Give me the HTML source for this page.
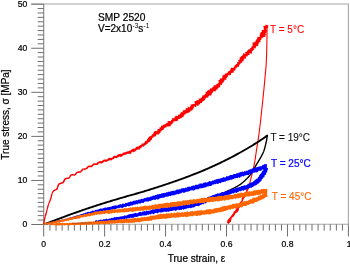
<!DOCTYPE html>
<html><head><meta charset="utf-8"><style>
html,body{margin:0;padding:0;background:#fff;}
body{width:350px;height:264px;overflow:hidden;}
svg{display:block;will-change:transform;}
text{font-family:"Liberation Sans",sans-serif;}
.b{stroke:#000;stroke-width:0.22;}
.sp{text-rendering:geometricPrecision;}
</style></head><body>
<svg width="350" height="264" viewBox="0 0 350 264">
<rect width="350" height="264" fill="#fff"/>
<g stroke="#a6a6a6" stroke-width="1.1" fill="none">
<path d="M31.2,4H348.40V224.00"/>
<path d="M43.70,224.3H348.40"/>
<path d="M43.7,4V224.3" stroke="#808080" stroke-width="1.1"/>
</g>
<path d="M37.7,220.04H43.70M37.7,215.64H43.70M37.7,211.23H43.70M37.7,206.83H43.70M37.7,202.42H43.70M37.7,198.01H43.70M37.7,193.61H43.70M37.7,189.20H43.70M37.7,184.80H43.70M37.7,175.98H43.70M37.7,171.58H43.70M37.7,167.17H43.70M37.7,162.77H43.70M37.7,158.36H43.70M37.7,153.95H43.70M37.7,149.55H43.70M37.7,145.14H43.70M37.7,140.74H43.70M37.7,131.92H43.70M37.7,127.52H43.70M37.7,123.11H43.70M37.7,118.71H43.70M37.7,114.30H43.70M37.7,109.89H43.70M37.7,105.49H43.70M37.7,101.08H43.70M37.7,96.68H43.70M37.7,87.86H43.70M37.7,83.46H43.70M37.7,79.05H43.70M37.7,74.65H43.70M37.7,70.24H43.70M37.7,65.83H43.70M37.7,61.43H43.70M37.7,57.02H43.70M37.7,52.62H43.70M37.7,43.80H43.70M37.7,39.40H43.70M37.7,34.99H43.70M37.7,30.59H43.70M37.7,26.18H43.70M37.7,21.77H43.70M37.7,17.37H43.70M37.7,12.96H43.70M37.7,8.56H43.70M49.94,224.30V230.6M56.04,224.30V230.6M62.13,224.30V230.6M68.23,224.30V230.6M74.32,224.30V230.6M80.41,224.30V230.6M86.51,224.30V230.6M92.60,224.30V230.6M98.70,224.30V230.6M110.88,224.30V230.6M116.98,224.30V230.6M123.07,224.30V230.6M129.17,224.30V230.6M135.26,224.30V230.6M141.35,224.30V230.6M147.45,224.30V230.6M153.54,224.30V230.6M159.64,224.30V230.6M171.82,224.30V230.6M177.92,224.30V230.6M184.01,224.30V230.6M190.11,224.30V230.6M196.20,224.30V230.6M202.29,224.30V230.6M208.39,224.30V230.6M214.48,224.30V230.6M220.58,224.30V230.6M232.76,224.30V230.6M238.86,224.30V230.6M244.95,224.30V230.6M251.05,224.30V230.6M257.14,224.30V230.6M263.23,224.30V230.6M269.33,224.30V230.6M275.42,224.30V230.6M281.52,224.30V230.6M293.70,224.30V230.6M299.80,224.30V230.6M305.89,224.30V230.6M311.99,224.30V230.6M318.08,224.30V230.6M324.17,224.30V230.6M330.27,224.30V230.6M336.36,224.30V230.6M342.46,224.30V230.6" stroke="#6e6e6e" stroke-width="1" fill="none"/>
<path d="M31.3,224.50H43.70M31.3,180.44H43.70M31.3,136.38H43.70M31.3,92.32H43.70M31.3,48.26H43.70M31.3,4.20H43.70M43.70,224.30V236.5M104.64,224.30V236.5M165.58,224.30V236.5M226.52,224.30V236.5M287.46,224.30V236.5M348.40,224.30V236.5" stroke="#6e6e6e" stroke-width="1" fill="none"/>
<g class="b" font-size="8.6" fill="#000" text-anchor="end"><text x="27.2" y="227.40">0</text><text x="27.2" y="183.34">10</text><text x="27.2" y="139.28">20</text><text x="27.2" y="95.22">30</text><text x="27.2" y="51.16">40</text><text x="27.2" y="7.10">50</text></g>
<g class="b" font-size="8.6" fill="#000" text-anchor="middle"><text x="43.70" y="247">0</text><text x="104.64" y="247">0.2</text><text x="165.58" y="247">0.4</text><text x="226.52" y="247">0.6</text><text x="287.46" y="247">0.8</text><text x="349.20" y="247">1</text></g>
<text class="b" x="196.5" y="261.6" font-size="10" fill="#000" text-anchor="middle">True strain, ε</text>
<text class="b" transform="translate(8.9,114.5) rotate(-90)" font-size="10" fill="#000" text-anchor="middle">True stress, σ [MPa]</text>
<text class="b" x="98" y="20.8" font-size="10.2" fill="#000">SMP 2520</text>
<text class="b" x="98" y="32" font-size="10" fill="#000">V=2x10</text><text x="132.6" y="28.3" font-size="6.4" fill="#000">-3</text><text class="b" x="138.2" y="32" font-size="10" fill="#000">s</text><text x="143.6" y="28.3" font-size="6.4" fill="#000">-1</text>

<g fill="#ff0000"><path d="M44.34,224.10 44.38,223.60 44.56,223.12 44.64,222.62 44.64,222.12 44.74,221.64 44.81,221.15 44.92,220.66 44.98,220.18 45.07,219.69 45.18,219.22 45.27,218.73 45.41,218.26 45.62,217.81 45.64,217.30 45.62,216.78 45.83,216.32 46.01,215.85 46.20,215.39 46.34,214.91 46.57,214.46 46.61,213.95 46.71,213.46 46.94,213.00 47.02,212.50 47.18,212.02 47.28,211.53 47.31,211.01 47.48,210.54 47.58,210.05 47.75,209.57 47.86,209.08 48.00,208.60 48.14,208.12 48.27,207.64 48.38,207.16 48.53,206.68 48.67,206.21 48.74,205.72 48.84,205.23 48.91,204.74 49.11,204.29 49.30,203.84 49.53,203.40 49.63,202.90 49.83,202.45 50.14,202.04 50.37,201.59 50.54,201.12 50.71,200.65 50.91,200.19 51.07,199.71 51.16,199.20 51.35,198.73 51.61,198.27 51.71,197.77 51.90,197.29 51.91,196.76 52.07,196.27 52.22,195.77 52.37,195.28 52.48,194.78 52.46,194.26 52.58,193.78 52.76,193.33 52.91,192.88 53.15,192.47 53.48,192.15 53.76,191.81 53.95,191.41 54.31,191.18 54.72,190.97 55.22,190.76 55.83,190.60 56.40,190.28 56.94,189.94 57.44,189.55 57.79,189.04 58.05,188.50 58.21,187.93 58.32,187.36 58.53,186.84 58.70,186.33 58.87,185.85 59.01,185.41 59.21,185.05 59.45,184.77 59.78,184.59 60.12,184.39 60.53,184.16 61.01,183.97 61.59,183.92 62.17,183.79 62.75,183.55 63.32,183.26 63.82,182.82 64.25,182.33 64.56,181.78 64.82,181.23 65.05,180.72 65.23,180.27 65.42,179.91 65.57,179.56 65.89,179.44 66.26,179.32 66.70,179.16 67.23,179.08 67.82,179.02 68.43,178.93 69.02,178.66 69.59,178.34 70.05,177.88 70.41,177.37 70.65,176.82 70.98,176.38 71.21,175.97 71.54,175.79 71.78,175.60 72.13,175.62 72.56,175.55 73.12,175.53 73.72,175.70 74.39,175.70 75.11,175.60 75.65,175.11 76.16,174.67 76.51,174.13 76.87,173.69 77.17,173.34 77.42,173.09 77.74,173.07 78.06,172.92 78.52,172.89 79.08,172.84 79.71,172.87 80.34,172.66 80.96,172.43 81.51,172.04 81.93,171.55 82.36,171.11 82.67,170.67 82.92,170.30 83.11,169.99 83.38,169.80 83.78,169.81 84.25,169.89 84.81,169.87 85.43,169.68 86.07,169.61 86.70,169.37 87.29,169.01 87.73,168.54 88.13,168.11 88.40,167.71 88.57,167.35 88.83,167.17 89.17,167.19 89.60,167.23 90.14,167.30 90.77,167.32 91.44,167.15 92.14,166.99 92.67,166.52 93.13,166.07 93.42,165.56 93.70,165.18 94.07,165.07 94.31,164.88 94.66,164.80 95.13,164.97 95.70,165.03 96.35,164.98 97.11,165.06 97.80,164.74 98.22,164.14 98.60,163.68 98.94,163.32 99.38,163.36 99.55,163.22 99.82,163.21 100.22,163.28 100.77,163.48 101.47,163.47 102.21,163.20 102.88,162.86 103.45,162.46 103.81,161.98 104.21,161.77 104.40,161.48 104.68,161.53 105.00,161.72 105.48,161.67 106.10,161.83 106.85,161.86 107.50,161.33 108.02,160.86 108.73,160.75 109.09,160.39 109.49,160.40 109.64,160.28 109.88,160.14 110.29,160.41 110.88,160.21 111.59,160.16 112.26,159.74 112.75,159.18 113.55,159.13 113.94,158.74 114.35,158.66 114.36,158.18 114.61,158.00 115.00,157.88 115.52,157.97 116.16,158.15 116.87,157.99 117.48,157.56 118.17,157.36 118.71,157.16 118.86,156.74 118.98,156.40 119.25,156.34 119.62,156.46 120.13,156.90 120.82,156.78 121.61,156.64 122.35,156.34 122.72,155.67 123.24,155.54 123.42,155.15 123.70,155.09 124.02,155.25 124.44,155.03 125.01,154.76 125.68,154.85 126.27,154.46 126.78,154.07 127.34,153.87 127.93,153.89 128.09,153.43 128.55,153.80 128.91,153.96 129.34,153.77 129.96,153.78 130.77,153.89 131.33,153.21 131.52,152.27 132.15,152.18 132.24,151.51 132.87,151.75 133.37,152.11 133.72,152.18 134.14,152.01 134.64,151.57 135.34,151.50 135.69,150.66 136.19,150.29 136.74,150.08 137.22,149.91 137.27,149.27 137.93,149.70 138.27,149.64 138.61,149.31 139.27,149.56 139.90,149.42 140.20,148.49 140.70,148.09 141.13,147.69 141.59,147.42 141.95,147.13 142.25,146.82 142.35,146.18 143.09,146.59 143.74,146.80 144.09,146.29 144.45,145.71 144.92,145.30 145.41,144.93 146.11,144.79 146.31,144.20 146.80,143.96 147.54,144.05 147.49,143.42 147.64,142.97 147.89,142.58 148.22,142.22 149.14,142.55 149.27,141.80 149.99,141.71 150.61,141.45 150.67,140.68 150.74,140.01 151.49,139.94 151.96,139.72 151.84,139.09 152.12,138.80 152.17,138.29 152.21,137.65 152.79,137.64 153.35,137.58 153.45,136.81 154.22,136.87 154.63,136.45 155.59,136.57 155.86,136.04 156.15,135.64 155.94,134.84 156.36,134.67 156.67,134.44 157.09,134.34 157.63,134.38 158.44,134.73 158.85,134.29 158.97,133.38 159.91,133.51 160.17,132.84 160.70,132.56 160.68,131.86 160.52,131.37 161.10,131.51 161.34,130.69 162.05,130.81 162.20,130.19 162.74,130.08 163.11,129.75 163.67,129.68 163.75,128.95 164.07,128.54 164.45,128.23 164.74,127.79 165.24,127.63 165.80,127.55 166.29,127.38 166.70,127.09 166.78,126.35 167.63,126.69 167.86,126.16 168.77,126.58 169.32,126.50 169.83,126.35 170.35,126.22 170.70,125.86 170.77,125.08 171.15,124.76 171.55,124.46 171.89,124.07 172.31,123.80 172.50,123.19 172.99,123.03 173.40,122.73 173.50,122.01 173.58,121.26 174.56,121.77 174.64,121.01 175.36,121.17 176.04,121.29 176.41,120.94 177.08,121.03 177.59,120.90 177.78,120.30 178.09,119.87 178.25,119.22 178.72,119.02 179.14,118.75 180.07,119.22 180.00,118.23 180.85,118.58 181.05,117.98 181.63,117.94 181.86,117.39 182.44,117.33 182.73,116.87 183.18,116.63 183.80,116.64 183.65,115.55 184.45,115.81 184.11,114.47 184.67,114.39 185.28,114.39 185.63,114.01 185.97,113.62 186.27,113.19 187.14,113.53 187.50,113.16 187.76,112.67 188.35,112.63 188.90,112.53 189.44,112.42 189.79,112.04 190.28,111.85 190.37,111.13 190.52,110.48 191.35,110.76 191.87,110.62 192.23,110.26 192.69,110.04 192.61,109.11 193.45,109.39 193.27,108.32 193.79,108.18 193.76,107.30 193.82,106.55 194.41,106.50 195.50,107.11 196.13,107.11 196.40,106.63 196.12,105.42 196.63,105.26 197.83,105.99 198.29,105.76 198.63,105.37 198.66,104.58 199.13,104.35 200.07,104.71 200.10,103.92 200.20,103.24 200.64,102.96 201.39,103.05 202.00,102.97 202.04,102.21 202.45,101.91 202.55,101.25 202.94,100.92 203.64,100.93 204.06,100.64 204.40,100.27 204.76,99.91 205.04,99.47 205.31,99.02 205.77,98.78 205.65,97.92 206.47,98.08 206.39,97.26 207.81,98.09 207.76,97.29 208.41,97.29 208.32,96.46 208.79,96.25 209.12,95.89 209.18,95.24 209.93,95.39 210.83,95.74 210.82,95.00 211.55,95.16 211.58,94.43 211.79,93.91 211.86,93.19 212.28,92.91 212.59,92.49 213.17,92.42 213.02,91.38 213.68,91.41 213.92,90.87 215.38,91.88 215.27,90.89 215.90,90.83 216.16,90.31 216.45,89.83 216.93,89.57 217.43,89.30 217.78,88.91 217.90,88.26 218.40,88.02 218.61,87.49 219.21,87.32 220.07,87.41 219.94,86.58 220.55,86.42 220.18,85.43 220.26,84.82 220.85,84.65 222.19,85.13 221.80,84.13 222.12,83.74 222.44,83.36 222.45,82.71 223.39,82.85 223.44,82.23 223.55,81.68 224.12,81.51 224.21,80.94 224.48,80.51 224.77,80.12 225.42,80.04 225.55,79.49 226.59,79.78 226.16,78.74 226.37,78.26 226.90,78.10 227.24,77.78 226.81,76.68 227.60,76.77 227.94,76.44 228.28,76.08 228.17,75.27 228.65,75.08 229.68,75.46 229.56,74.61 230.75,75.20 230.99,74.74 231.19,74.21 230.93,73.19 231.44,73.02 232.14,73.06 232.46,72.67 232.89,72.41 233.80,72.70 233.82,71.96 233.58,70.91 233.78,70.38 234.66,70.63 235.37,70.67 235.12,69.63 235.67,69.48 235.54,68.56 235.96,68.28 236.61,68.24 236.71,67.59 237.07,67.24 237.41,66.85 238.42,67.11 238.69,66.65 239.12,66.30 238.86,65.37 239.55,65.25 239.54,64.56 240.11,64.33 240.50,63.95 240.44,63.27 241.07,63.06 241.46,62.68 242.15,62.48 242.54,62.12 242.50,61.52 242.52,60.96 243.73,61.15 243.67,60.58 243.44,59.89 243.80,59.61 244.71,59.78 244.15,58.78 244.51,58.51 244.81,58.17 246.21,58.96 245.96,58.07 245.81,57.22 245.90,56.60 246.30,56.32 247.19,56.63 247.48,56.21 247.70,55.68 247.90,55.13 248.37,54.91 249.06,54.91 249.68,54.82 249.68,54.03 249.54,53.10 250.59,53.42 251.66,53.70 251.86,53.12 252.05,52.55 251.93,51.74 252.07,51.17 252.62,50.96 252.73,50.38 252.96,49.91 254.13,50.18 254.29,49.66 253.54,48.43 254.28,48.36 255.32,48.50 255.75,48.19 255.55,47.41 256.17,47.24 255.88,46.40 256.59,46.30 257.12,46.06 257.70,45.87 258.12,45.56 258.61,45.30 258.19,44.38 258.67,44.11 258.47,43.36 259.26,43.33 258.95,42.48 259.55,42.31 260.38,42.32 260.50,41.78 260.44,41.11 260.43,40.47 260.64,39.99 261.38,39.92 261.16,39.13 261.20,38.52 261.72,38.27 262.47,38.19 262.65,37.68 262.89,37.22 263.81,37.22 264.27,36.89 265.01,36.73 265.48,36.38 264.86,35.36 266.17,35.48 266.14,34.80 265.27,33.71 265.79,33.36 266.34,33.02 266.39,32.45 265.90,31.65 266.81,31.46 267.38,31.12 267.56,30.63 266.10,29.51 266.06,28.95 266.19,28.46 267.44,28.38 267.38,27.82 268.20,27.57 268.11,27.01 267.94,26.43 268.56,26.14 268.73,25.69 265.40,24.43 265.92,25.17 265.38,25.51 264.80,25.84 264.08,26.11 263.35,26.38 263.01,26.78 263.74,27.56 264.11,28.22 263.68,28.58 263.90,29.19 263.94,29.73 262.90,29.83 262.20,30.05 261.43,30.21 262.23,31.08 261.55,31.27 261.85,31.93 260.90,31.93 260.69,32.32 260.65,32.82 260.07,33.00 260.37,33.74 260.08,34.11 259.71,34.43 259.94,35.17 259.56,35.50 259.83,36.29 259.75,36.84 258.89,36.82 258.47,37.12 257.20,36.78 257.50,37.62 257.38,38.15 256.91,38.42 257.04,39.15 256.44,39.32 256.25,39.81 255.64,39.98 255.85,40.77 255.77,41.34 255.26,41.59 254.48,41.65 254.52,42.30 254.19,42.68 252.88,42.34 252.35,42.57 252.57,43.35 252.69,44.05 252.55,44.56 252.39,45.06 253.09,46.20 252.00,46.00 251.67,46.37 251.58,46.92 251.11,47.17 251.22,47.88 250.59,48.01 249.97,48.13 250.23,48.97 249.72,49.19 249.09,49.27 248.64,49.51 248.09,49.61 247.96,50.12 247.83,50.63 247.07,50.49 246.84,50.91 246.78,51.54 246.45,51.88 245.86,51.92 245.27,51.97 245.15,52.59 245.63,53.96 244.50,53.40 243.84,53.41 242.91,53.15 243.18,54.27 242.86,54.73 242.53,55.18 242.12,55.55 241.86,56.08 240.86,55.96 241.05,56.88 240.36,57.07 239.91,57.47 239.43,57.84 239.74,58.69 239.93,59.42 239.20,59.58 238.86,59.96 237.80,59.90 238.42,60.81 238.63,61.50 238.54,62.00 237.59,61.90 237.43,62.34 237.04,62.61 237.16,63.28 237.21,63.93 236.41,63.84 235.92,63.99 235.77,64.51 235.66,65.06 235.04,65.10 234.75,65.51 234.47,65.91 234.42,66.58 234.00,66.85 233.71,67.26 233.58,67.87 233.03,67.99 231.89,67.43 231.40,67.63 230.99,67.91 230.64,68.28 230.69,69.09 230.41,69.53 230.26,70.13 229.61,70.16 229.72,71.05 229.02,71.01 228.65,71.36 228.14,71.54 227.67,71.78 227.78,72.66 227.28,72.87 226.99,73.30 226.26,73.28 225.86,73.61 225.04,73.50 224.75,73.97 224.84,74.79 224.22,74.89 223.14,74.61 223.32,75.50 222.55,75.47 222.12,75.79 222.64,76.94 222.16,77.19 222.25,77.94 221.77,78.20 221.34,78.49 220.64,78.56 219.70,78.43 219.91,79.27 220.04,80.03 218.98,79.79 218.79,80.29 218.24,80.47 218.64,81.46 218.97,82.38 218.55,82.68 218.21,83.04 217.48,83.06 217.83,84.03 216.95,83.89 216.51,84.15 216.27,84.60 215.81,84.81 215.45,85.14 215.10,85.46 214.30,85.29 213.69,85.35 213.61,85.92 213.53,86.53 213.15,86.82 212.63,86.92 212.28,87.24 212.34,88.06 211.50,87.78 211.68,88.79 210.86,88.52 210.14,88.37 209.91,88.89 209.42,89.07 209.73,90.32 208.97,90.16 208.13,89.90 207.75,90.27 207.49,90.79 207.15,91.21 206.85,91.67 206.34,91.88 205.50,91.71 205.77,92.80 205.56,93.34 205.39,93.91 205.03,94.27 204.72,94.68 204.17,94.83 203.86,95.23 203.36,95.43 202.80,95.56 202.12,95.56 202.15,96.33 202.15,97.07 201.58,97.18 201.63,97.97 200.55,97.53 200.77,98.50 200.31,98.73 199.67,98.75 198.67,98.35 198.69,99.11 198.91,100.12 198.31,100.17 197.73,100.23 196.66,99.70 196.66,100.47 196.23,100.71 196.12,101.36 195.28,101.08 194.80,101.26 194.45,101.61 194.56,102.56 194.95,103.89 194.46,104.07 193.81,104.03 192.90,103.64 192.88,104.44 191.99,104.08 191.77,104.63 191.09,104.56 190.42,104.49 190.73,105.74 190.54,106.32 190.01,106.45 190.04,107.33 189.62,107.60 188.40,106.80 187.76,106.78 187.82,107.69 187.52,108.12 187.22,108.55 186.26,108.08 185.61,108.04 185.91,109.29 185.52,109.60 185.31,110.16 184.35,109.68 184.38,110.57 183.44,110.13 183.00,110.36 182.76,110.88 182.66,111.59 182.51,112.25 182.07,112.48 181.00,111.85 180.79,112.40 180.61,113.00 180.30,113.43 179.95,113.80 180.03,114.78 179.29,114.58 178.57,114.42 178.17,114.71 178.02,115.38 177.86,116.03 177.39,116.22 176.40,115.66 175.75,115.60 175.55,116.20 175.15,116.50 174.67,116.69 174.51,117.34 174.62,118.38 173.89,118.21 173.08,117.93 172.40,117.83 172.18,118.39 172.28,119.40 171.76,119.52 171.68,120.28 170.87,120.00 170.96,120.99 170.49,121.20 169.70,120.94 169.15,121.03 168.78,121.37 167.97,121.09 167.59,121.42 167.54,122.22 167.56,123.12 166.75,122.84 166.54,123.41 165.88,123.34 165.72,123.98 165.35,124.33 164.62,124.17 164.26,124.53 163.69,124.60 163.21,124.80 162.86,125.17 162.63,125.71 161.92,125.61 161.35,125.67 160.98,126.04 161.00,126.92 160.77,127.45 159.86,127.09 159.57,127.54 159.60,128.41 159.34,128.67 158.88,129.04 157.87,129.06 157.47,129.39 157.13,129.68 157.44,130.63 157.34,131.21 156.61,130.93 156.23,131.19 155.51,131.02 154.65,130.78 154.47,131.63 153.79,131.83 153.90,132.84 153.32,133.06 153.20,133.65 152.89,133.99 152.75,134.45 152.08,134.32 151.93,134.82 151.62,135.16 151.33,135.65 150.84,135.91 150.45,136.32 149.64,136.33 149.18,136.73 148.82,137.19 148.36,137.52 148.32,138.11 147.95,138.37 147.80,138.80 147.38,138.95 147.14,139.31 147.12,139.99 146.71,140.26 146.43,140.75 146.09,141.18 145.28,141.12 145.00,141.62 144.67,142.05 144.60,142.67 143.94,142.68 143.87,143.23 143.51,143.44 143.05,143.49 142.60,143.54 141.98,143.35 141.79,144.14 141.38,144.55 140.97,144.95 140.23,144.93 140.01,145.52 139.56,145.74 138.86,145.48 138.92,146.22 138.64,146.50 138.22,146.59 137.71,146.62 137.02,146.40 136.55,146.95 136.01,147.32 135.53,147.70 135.19,148.15 135.08,148.77 134.45,148.50 134.17,148.67 133.79,148.65 133.27,148.41 132.78,148.75 132.20,149.10 131.53,149.32 131.15,149.95 130.66,150.24 130.55,150.87 130.08,150.85 129.64,150.54 129.38,150.72 128.98,150.99 128.46,151.31 127.84,151.44 126.96,151.15 126.46,151.68 125.95,151.97 125.58,152.17 125.28,152.14 125.12,152.16 124.87,152.32 124.42,152.21 123.81,152.56 123.12,152.83 122.49,153.22 122.10,153.82 121.48,153.88 120.88,153.63 120.71,153.71 120.55,153.88 120.20,153.70 119.64,153.88 118.95,154.10 118.18,154.28 117.60,154.80 117.04,155.14 116.77,155.63 116.42,155.81 116.11,155.80 115.82,155.82 115.40,155.65 114.84,155.76 114.12,155.75 113.48,156.26 112.97,156.80 112.57,157.30 112.01,157.48 111.73,157.77 111.45,157.80 111.22,157.82 110.87,157.94 110.36,158.04 109.72,157.74 109.04,158.12 108.25,158.20 107.86,158.87 107.32,159.13 107.11,159.59 106.76,159.63 106.51,159.58 106.21,159.52 105.74,159.51 105.12,159.48 104.38,159.38 103.67,159.77 103.02,160.14 102.49,160.51 102.12,160.87 101.82,161.08 101.61,161.15 101.39,161.35 100.99,161.15 100.45,161.08 99.77,161.10 99.10,161.52 98.39,161.67 97.79,162.05 97.27,162.41 96.90,162.75 96.80,163.22 96.52,163.32 96.22,163.42 95.78,163.41 95.24,163.36 94.60,163.17 93.86,163.18 93.21,163.60 92.68,164.08 92.28,164.57 91.88,164.96 91.60,165.31 91.30,165.43 91.05,165.51 90.71,165.56 90.23,165.58 89.64,165.61 88.97,165.54 88.29,165.77 87.68,166.14 87.12,166.55 86.79,167.10 86.40,167.49 86.15,167.86 85.91,168.09 85.65,168.26 85.28,168.32 84.80,168.26 84.22,168.26 83.60,168.38 82.98,168.61 82.33,168.82 81.78,169.22 81.36,169.73 81.01,170.21 80.70,170.61 80.45,170.91 80.24,171.15 79.95,171.25 79.56,171.31 79.06,171.35 78.48,171.34 77.85,171.41 77.20,171.56 76.62,171.93 76.13,172.36 75.74,172.85 75.39,173.33 75.02,173.68 74.78,174.00 74.51,174.13 74.20,174.16 73.80,174.24 73.27,174.18 72.66,174.11 71.98,174.04 71.28,174.22 70.66,174.59 70.11,175.04 69.71,175.58 69.49,176.17 69.24,176.64 68.97,176.99 68.70,177.23 68.44,177.44 68.05,177.48 67.59,177.53 67.06,177.71 66.47,177.82 65.83,177.86 65.21,178.08 64.62,178.43 64.20,178.95 63.86,179.50 63.55,180.04 63.28,180.56 63.12,181.06 62.90,181.45 62.67,181.76 62.38,181.94 62.09,182.15 61.69,182.34 61.20,182.44 60.65,182.58 60.05,182.72 59.46,182.95 58.88,183.24 58.39,183.68 58.02,184.21 57.69,184.76 57.42,185.32 57.20,185.88 57.12,186.45 57.10,187.00 56.86,187.44 56.67,187.85 56.53,188.25 56.30,188.60 55.97,188.86 55.65,189.15 55.22,189.29 54.77,189.50 54.17,189.62 53.53,189.90 53.04,190.42 52.67,190.95 52.33,191.43 52.05,191.92 51.80,192.42 51.57,192.92 51.50,193.46 51.31,193.96 51.16,194.47 51.03,194.97 50.82,195.45 50.71,195.93 50.66,196.43 50.59,196.92 50.50,197.41 50.29,197.85 50.16,198.32 50.03,198.79 49.85,199.25 49.58,199.67 49.53,200.18 49.36,200.65 49.19,201.12 48.89,201.53 48.74,202.02 48.61,202.51 48.39,202.97 48.27,203.47 48.01,203.91 47.90,204.41 47.72,204.89 47.44,205.34 47.32,205.84 47.23,206.34 47.17,206.84 47.06,207.33 46.92,207.82 46.81,208.30 46.71,208.79 46.60,209.28 46.43,209.75 46.28,210.23 46.16,210.71 46.05,211.20 46.02,211.70 45.87,212.18 45.67,212.64 45.47,213.10 45.35,213.58 45.20,214.06 45.03,214.53 44.84,215.00 44.74,215.49 44.67,215.99 44.58,216.49 44.44,216.97 44.20,217.43 44.08,217.92 44.06,218.44 43.97,218.94 43.87,219.44 43.72,219.93 43.73,220.45 43.58,220.94 43.53,221.44 43.45,221.94 43.38,222.44 43.25,222.92 43.17,223.41 43.02,223.89Z"/><path d="M247.09,187.75 246.83,188.50 246.60,189.26 246.33,190.00 246.16,190.79 245.93,191.55 245.33,192.14 244.55,192.65 244.22,193.37 244.39,194.34 244.36,195.21 243.82,195.84 243.17,196.41 242.73,197.09 242.14,197.68 241.64,198.32 241.59,199.18 241.72,200.14 241.39,200.87 240.74,201.43 240.19,202.04 239.80,202.73 239.39,203.41 239.06,204.14 239.01,205.02 238.81,205.82 238.28,206.44 237.67,207.01 237.19,207.65 236.59,208.21 236.05,208.80 235.72,209.51 235.43,210.23 234.98,210.84 234.36,211.33 233.79,211.84 233.47,212.56 233.22,213.39 232.71,214.01 232.12,214.60 231.58,215.23 231.13,215.90 230.70,216.61 230.20,217.29 229.52,217.88 228.97,218.54 228.43,219.20 227.82,219.80 227.46,220.52 227.32,221.31 227.10,222.01 226.71,222.47 228.91,223.89 229.12,223.19 229.81,222.60 230.66,222.10 231.04,221.39 231.10,220.55 231.28,219.77 231.50,219.03 231.66,218.25 232.10,217.62 232.82,217.19 233.46,216.69 233.89,216.06 234.32,215.43 234.80,214.79 235.16,214.03 235.57,213.30 236.34,212.85 237.27,212.49 237.82,211.83 238.27,211.11 238.69,210.40 238.84,209.54 238.84,208.60 239.21,207.89 239.95,207.38 240.54,206.79 240.73,205.96 240.79,205.08 241.11,204.34 241.45,203.61 241.80,202.89 242.19,202.19 242.60,201.49 242.95,200.77 243.21,200.00 243.51,199.25 243.99,198.59 244.54,197.97 244.96,197.29 245.49,196.66 245.96,196.00 246.29,195.27 246.61,194.53 246.92,193.78 247.03,192.94 247.22,192.13 247.48,191.36 247.68,190.57 248.04,189.84 248.74,189.25 249.28,188.59Z"/></g>
<path d="M266.70,24.90 266.78,25.70 266.87,26.49 266.93,27.29 266.97,28.09 266.99,28.89 267.00,29.69 267.00,30.49 267.00,31.29 267.00,32.09 266.99,32.89 266.98,33.69 266.98,34.49 266.97,35.29 266.96,36.09 266.95,36.89 266.94,37.69 266.93,38.49 266.92,39.29 266.91,40.09 266.90,40.89 266.89,41.69 266.87,42.49 266.86,43.29 266.85,44.09 266.83,44.89 266.82,45.69 266.80,46.49 266.79,47.29 266.77,48.09 266.75,48.89 266.74,49.69 266.72,50.48 266.70,51.28 266.68,52.08 266.65,52.88 266.63,53.68 266.61,54.48 266.58,55.28 266.56,56.08 266.53,56.88 266.50,57.68 266.46,58.48 266.43,59.28 266.40,60.08 266.35,60.88 266.31,61.68 266.27,62.48 266.22,63.27 266.17,64.07 266.12,64.87 266.06,65.67 266.00,66.47 265.94,67.26 265.88,68.06 265.81,68.86 265.75,69.66 265.68,70.45 265.61,71.25 265.54,72.05 265.46,72.84 265.39,73.64 265.31,74.44 265.24,75.23 265.16,76.03 265.09,76.83 265.01,77.62 264.93,78.42 264.86,79.22 264.78,80.01 264.71,80.81 264.64,81.61 264.56,82.40 264.49,83.20 264.42,84.00 264.34,84.79 264.27,85.59 264.20,86.38 264.12,87.18 264.04,87.98 263.97,88.77 263.89,89.57 263.81,90.37 263.73,91.16 263.65,91.96 263.56,92.75 263.48,93.55 263.40,94.34 263.31,95.14 263.23,95.94 263.15,96.73 263.06,97.53 262.98,98.32 262.89,99.12 262.81,99.91 262.72,100.71 262.64,101.51 262.56,102.30 262.47,103.10 262.39,103.89 262.31,104.69 262.22,105.48 262.14,106.28 262.05,107.07 261.97,107.87 261.89,108.67 261.80,109.46 261.72,110.26 261.63,111.05 261.55,111.85 261.46,112.64 261.38,113.44 261.29,114.23 261.21,115.03 261.12,115.82 261.04,116.62 260.95,117.42 260.86,118.21 260.78,119.01 260.69,119.80 260.60,120.60 260.51,121.39 260.42,122.19 260.33,122.98 260.24,123.78 260.15,124.57 260.06,125.37 259.96,126.16 259.87,126.95 259.78,127.75 259.68,128.54 259.58,129.34 259.48,130.13 259.38,130.92 259.28,131.72 259.17,132.51 259.07,133.30 258.96,134.10 258.85,134.89 258.73,135.68 258.62,136.47 258.50,137.26 258.39,138.06 258.27,138.85 258.14,139.64 258.02,140.43 257.90,141.22 257.77,142.01 257.65,142.80 257.52,143.59 257.40,144.38 257.27,145.17 257.14,145.96 257.01,146.75 256.89,147.54 256.76,148.33 256.64,149.12 256.51,149.91 256.39,150.70 256.28,151.49 256.16,152.28 256.05,153.07 255.94,153.87 255.82,154.66 255.71,155.45 255.60,156.24 255.49,157.04 255.38,157.83 255.26,158.62 255.13,159.41 255.01,160.20 254.87,160.99 254.73,161.77 254.59,162.56 254.44,163.35 254.28,164.13 254.12,164.91 253.95,165.70 253.78,166.48 253.61,167.26 253.44,168.04 253.27,168.82 253.09,169.60 252.91,170.38 252.73,171.16 252.55,171.94 252.37,172.72 252.18,173.50 252.00,174.28 251.81,175.05 251.62,175.83 251.42,176.61 251.23,177.38 251.03,178.16 250.83,178.93 250.62,179.71 250.41,180.48 250.20,181.25 249.99,182.02 249.77,182.79 249.54,183.56 249.31,184.32 249.07,185.09 248.82,185.85 248.57,186.60 248.30,187.36 248.02,188.11 247.74,188.86 247.44,189.60 247.14,190.34 246.82,191.07 246.49,191.80" stroke="#ff0000" stroke-width="1.1" fill="none"/>
<g fill="none" stroke-linejoin="round" stroke-linecap="round">
<path d="M44.80,224.00 45.74,223.65 46.68,223.31 47.62,222.97 48.55,222.62 49.49,222.28 50.43,221.93 51.37,221.59 52.31,221.24 53.25,220.90 54.19,220.55 55.12,220.20 56.06,219.86 57.00,219.51 57.94,219.17 58.88,218.82 59.81,218.47 60.75,218.12 61.68,217.76 62.61,217.40 63.54,217.03 64.47,216.65 65.40,216.29 66.34,215.93 67.27,215.58 68.21,215.24 69.16,214.90 70.10,214.57 71.04,214.23 71.98,213.90 72.93,213.57 73.87,213.23 74.81,212.90 75.76,212.57 76.70,212.24 77.64,211.91 78.59,211.58 79.53,211.25 80.48,210.92 81.42,210.59 82.37,210.27 83.31,209.94 84.26,209.61 85.20,209.29 86.15,208.97 87.09,208.64 88.04,208.32 88.99,208.00 89.94,207.68 90.88,207.36 91.83,207.05 92.78,206.73 93.73,206.42 94.68,206.10 95.63,205.80 96.58,205.49 97.53,205.18 98.49,204.88 99.44,204.57 100.39,204.27 101.35,203.97 102.30,203.67 103.26,203.37 104.21,203.08 105.17,202.78 106.12,202.49 107.08,202.19 108.03,201.90 108.99,201.61 109.95,201.32 110.90,201.03 111.86,200.74 112.82,200.45 113.78,200.16 114.73,199.87 115.69,199.59 116.65,199.30 117.61,199.01 118.57,198.73 119.53,198.44 120.48,198.16 121.44,197.87 122.40,197.59 123.36,197.31 124.32,197.04 125.29,196.76 126.25,196.49 127.21,196.21 128.17,195.94 129.13,195.67 130.10,195.40 131.06,195.13 132.02,194.86 132.98,194.59 133.95,194.32 134.91,194.05 135.87,193.77 136.83,193.50 137.79,193.23 138.76,192.95 139.72,192.67 140.68,192.39 141.64,192.11 142.59,191.83 143.55,191.54 144.51,191.25 145.47,190.96 146.42,190.66 147.38,190.37 148.33,190.07 149.29,189.77 150.24,189.47 151.19,189.17 152.15,188.87 153.10,188.57 154.05,188.26 155.01,187.96 155.96,187.65 156.91,187.34 157.86,187.03 158.81,186.72 159.76,186.41 160.71,186.10 161.66,185.79 162.61,185.48 163.56,185.16 164.51,184.85 165.46,184.53 166.41,184.21 167.35,183.89 168.30,183.57 169.25,183.25 170.20,182.93 171.14,182.61 172.09,182.29 173.03,181.96 173.98,181.64 174.92,181.31 175.87,180.98 176.81,180.65 177.76,180.32 178.70,179.98 179.64,179.65 180.58,179.31 181.52,178.97 182.46,178.63 183.40,178.28 184.34,177.94 185.28,177.59 186.21,177.24 187.15,176.89 188.08,176.53 189.02,176.18 189.95,175.82 190.89,175.46 191.82,175.10 192.75,174.73 193.68,174.37 194.61,174.00 195.54,173.64 196.47,173.27 197.40,172.90 198.33,172.53 199.26,172.15 200.18,171.78 201.11,171.40 202.03,171.02 202.96,170.63 203.88,170.25 204.80,169.86 205.72,169.46 206.64,169.07 207.56,168.67 208.47,168.27 209.39,167.87 210.30,167.46 211.21,167.05 212.13,166.64 213.04,166.23 213.95,165.81 214.85,165.39 215.76,164.97 216.67,164.55 217.57,164.12 218.48,163.70 219.38,163.27 220.28,162.83 221.18,162.40 222.08,161.96 222.98,161.52 223.88,161.08 224.77,160.64 225.67,160.19 226.56,159.75 227.45,159.30 228.35,158.84 229.24,158.39 230.13,157.93 231.02,157.47 231.90,157.01 232.79,156.55 233.67,156.08 234.55,155.61 235.43,155.13 236.31,154.66 237.19,154.18 238.07,153.70 238.94,153.22 239.82,152.73 240.69,152.24 241.57,151.76 242.44,151.27 243.31,150.77 244.18,150.28 245.04,149.78 245.91,149.28 246.78,148.78 247.64,148.28 248.51,147.78 249.37,147.27 250.23,146.76 251.08,146.24 251.93,145.72 252.79,145.19 253.63,144.66 254.48,144.13 255.33,143.60 256.17,143.06 257.01,142.52 257.85,141.98 258.69,141.43 259.53,140.89 260.36,140.34 261.20,139.79 262.04,139.25 262.87,138.69 263.70,138.13 264.52,137.55 265.33,136.97 266.13,136.38 266.94,135.79 267.20,135.60" stroke="#000" stroke-width="1.9"/>
<path d="M267.20,135.60 267.09,136.59 266.99,137.59 266.86,138.58 266.70,139.57 266.51,140.55 266.30,141.53 266.09,142.51 265.88,143.48 265.66,144.46 265.43,145.43 265.19,146.40 264.94,147.37 264.68,148.33 264.39,149.29 264.08,150.24 263.74,151.18 263.37,152.11 262.97,153.03 262.54,153.93 262.08,154.82 261.62,155.71 261.15,156.59 260.67,157.47 260.18,158.34 259.68,159.21 259.17,160.07 258.66,160.93 258.14,161.78 257.63,162.64 257.11,163.49 256.59,164.35 256.08,165.21 255.58,166.07 255.09,166.95 254.62,167.83 254.14,168.71 253.66,169.59 253.18,170.46 252.67,171.32 252.16,172.18 251.61,173.02 251.04,173.84 250.44,174.64 249.81,175.42 249.17,176.18 248.50,176.93 247.82,177.66 247.14,178.39 246.43,179.10 245.72,179.80 244.99,180.49 244.26,181.16 243.51,181.82 242.74,182.47 241.97,183.10 241.18,183.72 240.38,184.32 239.56,184.90 238.73,185.45 237.88,185.98 237.02,186.48 236.14,186.96 235.26,187.43 234.37,187.88 233.47,188.32 232.57,188.76 231.66,189.18 230.76,189.60 229.85,190.03 228.94,190.45 228.04,190.88 227.14,191.31 226.24,191.75 225.34,192.18 224.43,192.60 223.52,193.02 222.61,193.43 221.70,193.84 220.78,194.23 219.86,194.63 218.94,195.01 218.01,195.39 217.08,195.77 216.16,196.14 215.23,196.51 214.30,196.89 213.38,197.27 212.45,197.65 211.53,198.03 210.60,198.41 209.68,198.79 208.75,199.17 207.83,199.54 206.90,199.92 205.97,200.28 205.04,200.64 204.10,201.00 203.16,201.35 202.23,201.70 201.28,202.03 200.34,202.36 199.39,202.68 198.44,202.98 197.49,203.28 196.53,203.56 195.56,203.84 194.60,204.10 193.63,204.34 192.66,204.58 191.68,204.79 190.70,205.00 189.72,205.21 188.74,205.40 187.76,205.59 186.78,205.77 185.79,205.95 184.81,206.13 183.82,206.30 182.84,206.46 181.85,206.63 180.86,206.79 179.88,206.95 178.89,207.10 177.90,207.26 176.91,207.41 175.92,207.56 174.94,207.72 173.95,207.87 172.96,208.02 171.97,208.17 170.98,208.33 170.00,208.50" stroke="#000" stroke-width="1.4"/>
</g>
<g fill="#0000ff"><path d="M46.61,224.24 47.36,224.41 48.03,224.24 48.70,224.02 49.36,223.74 50.11,223.95 50.80,223.84 51.46,223.54 52.15,223.41 52.81,223.13 53.47,222.86 54.20,222.96 54.92,222.96 55.54,222.52 56.32,222.84 56.94,222.36 57.63,222.23 58.29,221.99 59.10,222.45 59.76,222.16 60.47,222.11 61.12,221.82 61.73,221.31 62.46,221.36 63.17,221.33 63.81,220.95 64.61,221.35 65.22,220.83 65.88,220.54 66.66,220.83 67.24,220.23 68.06,220.61 68.67,220.13 69.37,220.04 70.02,219.75 70.74,219.67 71.36,219.30 72.02,219.03 72.86,219.42 73.42,218.80 74.20,218.99 74.77,218.42 75.60,218.75 76.27,218.51 76.91,218.22 77.59,218.04 78.23,217.71 78.94,217.62 79.48,217.00 80.23,217.05 80.98,217.09 81.51,216.45 82.34,216.76 83.00,216.54 83.57,216.00 84.23,215.77 84.92,215.63 85.57,215.38 86.38,215.63 86.92,214.99 87.50,214.53 88.19,214.39 89.00,214.66 89.73,214.68 90.29,214.12 90.95,213.93 91.64,213.80 92.36,213.77 92.91,213.19 93.66,213.32 94.33,213.11 95.02,213.00 95.60,212.49 96.27,212.33 96.99,212.31 97.77,212.62 98.34,212.02 99.07,212.07 99.70,211.70 100.34,211.39 101.01,211.22 101.83,211.70 102.51,211.54 103.12,211.08 103.86,211.20 104.54,211.07 105.26,211.13 105.96,211.05 106.56,210.47 107.34,210.83 108.02,210.69 108.65,210.25 109.39,210.38 110.01,209.92 110.68,209.70 111.35,209.46 112.14,209.88 112.72,209.14 113.39,208.93 114.21,209.44 114.89,209.28 115.54,208.90 116.29,209.08 116.84,208.25 117.57,208.30 118.27,208.18 118.98,208.15 119.62,207.79 120.29,207.55 121.04,207.64 121.84,208.00 122.54,207.93 123.18,207.56 123.81,207.16 124.44,206.80 125.28,207.30 125.88,206.74 126.60,206.77 127.13,205.97 127.86,205.98 128.68,206.40 129.36,206.20 130.06,206.12 130.68,205.70 131.32,205.38 132.04,205.36 132.79,205.45 133.34,204.78 134.07,204.83 134.69,204.42 135.49,204.73 135.99,203.83 136.84,204.32 137.58,204.41 138.04,203.35 138.86,203.74 139.55,203.62 140.28,203.66 140.90,203.24 141.49,202.75 142.21,202.73 143.03,203.12 143.70,202.90 144.18,201.97 144.85,201.77 145.53,201.60 146.20,201.37 146.98,201.63 147.59,201.16 148.46,201.73 149.08,201.35 149.63,200.65 150.42,200.90 151.04,200.52 151.77,200.52 152.37,200.08 153.04,199.85 153.73,199.71 154.46,199.74 155.23,199.92 155.86,199.59 156.41,198.89 157.27,199.42 157.99,199.43 158.65,199.16 159.33,199.01 159.80,198.01 160.60,198.33 161.17,197.73 162.04,198.30 162.55,197.50 163.38,197.90 163.93,197.24 164.73,197.53 165.30,196.95 165.91,196.49 166.68,196.69 167.33,196.43 168.17,196.89 168.68,196.07 169.42,196.12 170.11,196.00 170.89,196.25 171.34,195.18 172.15,195.54 172.81,195.27 173.54,195.35 174.28,195.43 174.79,194.56 175.57,194.81 176.20,194.45 176.89,194.32 177.44,193.63 178.32,194.26 179.04,194.27 179.55,193.44 180.22,193.23 181.08,193.78 181.53,192.67 182.20,192.47 182.88,192.30 183.75,192.93 184.42,192.70 185.02,192.20 185.74,192.22 186.27,191.41 187.11,191.91 187.74,191.53 188.44,191.44 189.09,191.13 189.77,190.98 190.40,190.62 191.04,190.26 191.82,190.50 192.45,190.13 193.26,190.45 193.97,190.39 194.62,190.12 195.23,189.66 195.85,189.25 196.57,189.24 197.28,189.17 198.00,189.15 198.77,189.32 199.20,188.21 199.99,188.45 200.67,188.28 201.41,188.34 202.14,188.35 202.79,188.05 203.42,187.71 204.14,187.66 204.79,187.39 205.52,187.41 206.16,187.05 206.83,186.85 207.38,186.20 208.25,186.73 208.77,185.98 209.52,186.04 210.25,186.07 210.97,186.03 211.65,185.87 212.04,184.65 212.81,184.78 213.48,184.59 214.18,184.49 214.78,184.04 215.58,184.28 216.11,183.59 216.86,183.64 217.72,184.12 218.34,183.72 218.93,183.23 219.50,182.66 220.43,183.36 221.03,182.90 221.55,182.18 222.26,182.12 223.03,182.25 223.72,182.10 224.26,181.46 225.14,181.99 225.62,181.13 226.27,180.86 227.13,181.29 227.59,180.36 228.42,180.72 228.95,180.01 229.74,180.24 230.31,179.70 231.02,179.61 231.86,180.01 232.38,179.31 233.05,179.09 233.77,179.08 234.34,178.53 234.98,178.22 235.71,178.25 236.35,177.94 236.99,177.66 237.89,178.29 238.29,177.13 239.18,177.76 239.89,177.71 240.50,177.28 240.97,176.37 241.79,176.70 242.33,176.02 243.17,176.44 243.88,176.35 244.42,175.67 245.03,175.23 245.87,175.61 246.42,174.94 247.16,174.96 247.89,174.91 248.71,175.17 249.22,174.41 249.82,173.94 250.72,174.41 251.42,174.22 251.99,173.69 252.49,172.96 253.20,172.87 253.95,172.86 254.67,172.77 255.21,172.20 256.09,172.56 256.77,172.36 257.46,172.20 258.11,171.91 258.44,170.77 259.31,171.11 259.78,170.35 260.75,170.94 261.35,170.54 262.01,170.30 262.45,169.47 263.05,169.09 264.00,169.62 264.57,169.16 265.23,168.93 265.82,168.53 266.48,168.67 264.98,164.64 264.24,164.30 263.81,165.15 262.88,164.66 262.34,165.23 261.82,165.85 261.20,166.19 260.50,166.30 259.75,166.29 259.19,166.80 258.48,166.87 257.68,166.73 257.12,167.22 256.38,167.23 255.61,167.14 255.12,167.86 254.40,167.90 253.83,168.34 252.99,168.08 252.40,168.48 251.72,168.63 251.08,168.88 250.46,169.19 249.82,169.46 249.22,169.81 248.51,169.83 248.03,170.59 247.37,170.79 246.59,170.62 246.01,171.06 245.41,171.49 244.50,170.83 244.02,171.65 243.37,171.89 242.50,171.37 242.05,172.35 241.19,171.86 240.49,171.96 239.90,172.45 239.20,172.53 238.55,172.82 238.03,173.57 237.14,173.01 236.45,173.15 235.94,173.94 235.21,173.97 234.47,173.94 233.75,173.99 233.15,174.44 232.57,174.96 231.87,175.06 231.15,175.09 230.42,175.07 229.83,175.57 229.10,175.56 228.55,176.20 227.75,175.93 227.18,176.48 226.34,176.11 225.87,177.00 225.26,177.39 224.54,177.41 223.79,177.37 222.97,177.05 222.53,178.01 221.81,178.06 221.15,178.28 220.42,178.27 219.84,178.78 219.11,178.80 218.39,178.79 217.74,179.07 217.02,179.10 216.33,179.22 215.74,179.69 214.94,179.41 214.41,180.12 213.78,180.46 213.05,180.43 212.31,180.38 211.80,181.15 211.07,181.13 210.44,181.49 209.59,181.03 208.90,181.18 208.37,181.86 207.76,182.29 207.03,182.27 206.42,182.70 205.53,182.09 204.98,182.71 204.23,182.61 203.55,182.78 202.97,183.31 202.35,183.68 201.57,183.47 200.84,183.45 200.15,183.57 199.42,183.54 198.99,184.66 198.08,183.94 197.61,184.91 196.83,184.66 196.10,184.63 195.39,184.68 194.82,185.27 194.28,185.94 193.39,185.32 192.83,185.94 192.01,185.52 191.49,186.33 190.82,186.52 190.22,187.00 189.37,186.47 188.73,186.79 187.97,186.64 187.36,187.07 186.78,187.63 186.13,187.92 185.32,187.55 184.73,188.09 184.09,188.43 183.29,188.11 182.57,188.11 182.02,188.80 181.20,188.37 180.61,188.92 180.01,189.39 179.22,189.11 178.65,189.73 177.94,189.78 177.09,189.28 176.47,189.69 175.92,190.36 175.23,190.49 174.58,190.80 173.86,190.79 173.15,190.84 172.47,191.01 171.66,190.68 171.15,191.52 170.38,191.35 169.81,191.95 169.00,191.59 168.31,191.76 167.73,192.32 166.99,192.24 166.26,192.22 165.75,193.05 164.86,192.41 164.34,193.18 163.58,193.05 162.92,193.28 162.19,193.27 161.48,193.31 160.91,193.92 160.23,194.08 159.48,193.96 158.80,194.15 158.20,194.61 157.36,194.17 156.81,194.84 156.15,195.08 155.43,195.11 154.72,195.16 154.24,196.07 153.39,195.60 152.66,195.55 152.18,196.51 151.43,196.39 150.68,196.29 150.17,197.12 149.47,197.22 148.79,197.35 148.06,197.35 147.32,197.25 146.72,197.74 145.96,197.57 145.40,198.22 144.60,197.90 143.98,198.30 143.37,198.77 142.69,198.94 142.00,199.04 141.22,198.84 140.65,199.43 139.83,199.06 139.33,199.91 138.53,199.62 137.93,200.11 137.31,200.52 136.44,199.91 135.77,200.14 135.25,200.94 134.40,200.42 133.76,200.73 133.09,200.92 132.54,201.61 131.83,201.67 131.07,201.49 130.37,201.57 129.73,201.91 129.08,202.17 128.40,202.32 127.77,202.72 127.08,202.83 126.40,202.97 125.65,202.84 125.07,203.43 124.47,203.89 123.70,203.67 122.95,203.54 122.29,203.78 121.72,204.41 121.05,204.60 120.20,204.05 119.62,204.59 118.95,204.74 118.25,204.83 117.70,205.57 116.95,205.38 116.28,205.55 115.48,205.15 114.85,205.54 114.17,205.68 113.48,205.76 112.83,206.10 112.11,206.04 111.56,206.86 110.80,206.64 110.11,206.71 109.47,207.08 108.74,207.03 108.08,207.27 107.38,207.37 106.72,207.66 105.97,207.46 105.27,207.52 104.58,207.65 103.91,207.91 103.26,208.23 102.60,208.53 101.93,208.78 101.18,208.61 100.43,208.45 99.81,208.91 99.04,208.74 98.51,209.56 97.80,209.64 97.03,209.44 96.46,210.12 95.68,209.86 95.02,210.16 94.41,210.65 93.71,210.75 92.99,210.76 92.21,210.60 91.59,211.01 90.99,211.48 90.27,211.51 89.66,211.95 88.92,211.95 88.14,211.77 87.50,212.08 86.82,212.27 86.20,212.65 85.43,212.53 84.94,213.32 84.12,213.05 83.53,213.52 82.78,213.45 82.28,214.22 81.51,214.09 80.82,214.23 80.19,214.55 79.52,214.76 78.91,215.16 78.32,215.61 77.49,215.28 76.80,215.39 76.13,215.59 75.58,216.18 74.79,215.99 74.15,216.24 73.55,216.69 72.81,216.64 72.17,216.92 71.61,217.49 70.85,217.36 70.14,217.39 69.50,217.64 68.82,217.78 68.25,218.42 67.53,218.37 66.82,218.39 66.22,218.91 65.47,218.77 64.81,219.00 64.16,219.27 63.52,219.63 62.82,219.67 62.05,219.44 61.47,220.07 60.73,219.93 60.02,219.95 59.34,220.13 58.70,220.45 58.00,220.52 57.26,220.42 56.68,221.08 55.99,221.19 55.25,221.03 54.56,221.16 53.90,221.41 53.27,221.83 52.58,221.96 51.87,221.97 51.19,222.16 50.45,222.01 49.78,222.25 49.15,222.66 48.46,222.80 47.68,222.46 47.02,222.75 46.38,223.08Z"/><path d="M263.40,166.87 264.06,167.82 264.02,168.55 262.82,168.89 263.51,169.72 263.37,170.31 262.61,170.61 262.66,171.27 261.85,171.48 262.12,172.40 261.08,172.52 261.29,173.47 260.65,173.85 259.97,174.19 259.80,174.89 259.19,175.28 258.98,175.95 259.14,176.92 258.00,176.87 257.83,177.57 257.63,178.27 257.29,178.84 256.33,178.79 256.09,179.44 255.39,179.54 255.05,180.05 254.45,180.25 254.21,180.94 253.61,181.15 253.11,181.56 252.75,182.21 251.82,181.83 251.55,182.76 250.73,182.57 250.04,182.68 249.56,183.26 249.15,184.04 248.22,183.62 247.64,184.06 247.21,184.82 246.65,185.22 245.85,184.96 245.42,185.70 244.48,184.98 243.99,185.62 243.35,185.80 242.73,186.11 241.98,186.03 241.22,185.96 240.73,186.80 240.02,186.94 239.27,186.93 238.69,187.44 237.93,187.33 237.28,187.60 236.65,187.92 235.90,187.87 235.28,188.23 234.76,188.90 233.79,188.15 233.33,189.03 232.64,189.16 231.98,189.39 231.14,189.05 230.46,189.23 229.93,189.90 229.30,190.23 228.74,190.75 227.82,190.11 227.38,191.07 226.60,190.88 225.99,191.29 225.33,191.51 224.65,191.68 224.03,192.05 223.40,192.41 222.57,192.09 221.81,192.02 221.18,192.38 220.65,193.06 219.82,192.76 219.36,193.64 218.56,193.48 217.75,193.26 217.04,193.39 216.53,194.09 215.71,193.92 215.17,194.52 214.48,194.72 213.78,194.91 212.96,194.73 212.37,195.24 211.81,195.78 211.05,195.78 210.42,196.13 209.88,196.70 209.05,196.53 208.38,196.76 207.82,197.25 207.03,197.18 206.78,198.38 205.93,198.17 205.22,198.30 204.71,198.86 204.14,199.30 203.27,199.04 202.74,199.56 202.17,199.99 201.62,200.48 200.60,199.78 200.21,200.66 199.66,201.14 198.97,201.29 198.32,201.48 197.46,201.07 197.04,202.01 196.38,202.13 195.80,202.51 195.01,202.33 194.46,202.80 193.78,202.83 192.99,202.60 192.30,202.57 191.67,202.82 191.20,203.83 190.45,203.63 189.68,203.26 189.19,204.28 188.48,204.24 187.75,204.06 187.09,204.31 186.34,204.05 185.68,204.20 185.04,204.60 184.40,204.95 183.72,205.09 183.03,205.16 182.38,205.49 181.59,204.95 180.99,205.61 180.18,204.93 179.53,205.30 178.94,206.04 178.17,205.67 177.46,205.67 176.86,206.38 176.09,206.01 175.47,206.62 174.66,205.93 174.10,206.87 173.31,206.29 172.58,206.01 171.92,206.26 171.33,207.02 170.60,206.78 169.97,207.31 169.26,207.17 168.50,206.68 167.82,206.82 167.23,207.78 166.49,207.46 165.76,207.25 165.12,207.84 164.33,207.24 163.62,207.23 162.96,207.69 162.28,207.99 161.50,207.56 160.84,208.03 160.19,208.49 159.47,208.51 158.80,208.76 157.97,208.16 157.34,208.64 156.60,208.58 155.88,208.59 155.16,208.56 154.62,209.54 153.89,209.45 153.10,209.11 152.44,209.37 151.83,209.91 151.09,209.78 150.50,210.41 149.82,210.59 149.16,210.85 148.41,210.66 147.76,210.95 147.01,210.81 146.24,210.49 145.72,211.47 144.96,211.20 144.21,211.03 143.58,211.45 142.91,211.66 142.17,211.57 141.63,212.46 140.77,211.68 140.13,212.09 139.42,212.11 138.73,212.24 138.19,213.10 137.51,213.28 136.81,213.32 136.06,213.14 135.29,212.87 134.61,213.05 134.02,213.67 133.30,213.62 132.59,213.65 131.99,214.18 131.18,213.72 130.50,213.90 129.86,214.24 129.14,214.22 128.48,214.46 127.82,214.75 127.20,215.20 126.52,215.38 125.84,215.56 125.19,215.87 124.35,215.21 123.78,215.92 123.14,216.31 122.41,216.18 121.76,216.51 121.02,216.34 120.35,216.57 119.70,216.85 118.96,216.71 118.29,216.89 117.61,217.07 116.86,216.79 116.25,217.37 115.53,217.28 114.79,217.11 114.09,217.16 113.49,217.80 112.85,218.21 112.04,217.53 111.41,218.03 110.76,218.41 110.08,218.60 109.38,218.62 108.68,218.68 108.01,218.94 107.33,219.13 106.52,218.44 105.86,218.70 105.26,219.41 104.52,219.22 103.79,219.06 103.13,219.43 102.50,219.90 101.77,219.79 101.07,219.87 100.31,219.55 99.66,219.94 98.99,220.17 98.27,220.15 97.66,220.74 96.89,220.34 96.18,220.36 95.51,220.59 94.86,220.96 95.33,223.88 95.99,223.58 96.66,223.32 97.35,223.21 98.02,223.01 98.68,222.69 99.46,223.15 100.12,222.84 100.81,222.71 101.54,222.88 102.18,222.42 102.83,222.09 103.57,222.27 104.24,222.01 105.00,222.37 105.72,222.46 106.35,221.94 107.08,222.05 107.77,221.97 108.46,221.86 109.11,221.48 109.86,221.71 110.58,221.76 111.24,221.46 111.85,220.78 112.57,220.85 113.36,221.37 114.03,221.08 114.65,220.54 115.32,220.30 116.05,220.41 116.73,220.21 117.43,220.16 118.21,220.53 118.91,220.41 119.56,220.07 120.20,219.68 120.87,219.38 121.67,219.87 122.27,219.28 122.99,219.29 123.77,219.61 124.39,219.15 125.02,218.67 125.71,218.53 126.53,219.09 127.14,218.58 127.78,218.16 128.52,218.28 129.28,218.56 129.88,217.96 130.52,217.57 131.31,217.97 131.99,217.77 132.71,217.82 133.40,217.68 134.07,217.47 134.67,216.89 135.38,216.86 136.12,217.00 136.82,216.92 137.44,216.48 138.19,216.65 138.78,216.04 139.49,216.01 140.15,215.77 140.90,215.91 141.57,215.70 142.31,215.85 142.92,215.34 143.68,215.60 144.36,215.42 145.05,215.32 145.80,215.49 146.47,215.26 147.17,215.17 147.71,214.31 148.56,214.97 149.18,214.48 149.80,214.03 150.59,214.39 151.26,214.16 151.85,213.57 152.58,213.63 153.41,214.23 154.10,214.14 154.64,213.26 155.30,213.04 156.00,212.97 156.68,212.84 157.50,213.48 158.08,212.81 158.74,212.61 159.38,212.24 160.10,212.36 160.86,212.72 161.47,212.24 162.21,212.55 162.81,211.91 163.51,211.89 164.17,211.61 164.87,211.67 165.57,211.69 166.32,212.07 166.97,211.62 167.67,211.59 168.42,211.96 169.04,211.17 169.80,211.54 170.43,210.90 171.17,211.09 171.86,210.93 172.55,210.70 173.23,210.47 173.98,210.62 174.64,210.26 175.45,210.92 176.15,210.84 176.75,210.14 177.41,209.85 178.07,209.61 178.84,209.99 179.60,210.33 180.23,209.83 180.98,210.03 181.69,210.02 182.23,208.95 183.05,209.62 183.78,209.68 184.36,208.90 185.18,209.45 185.72,208.43 186.47,208.65 187.14,208.31 187.84,208.21 188.58,208.34 189.20,207.78 189.97,207.94 190.74,208.19 191.44,207.96 192.05,207.41 192.82,207.59 193.57,207.60 194.27,207.37 194.81,206.66 195.47,206.31 196.14,206.00 196.86,205.94 197.65,206.03 198.49,206.18 198.96,205.42 199.83,205.70 200.22,204.64 201.11,205.02 201.64,204.40 202.26,204.02 203.17,204.40 203.75,203.95 204.28,203.36 204.98,203.19 205.82,203.40 206.38,202.89 206.80,202.06 207.57,202.11 208.25,201.91 209.09,202.11 209.75,201.88 210.06,200.80 210.86,200.92 211.57,200.81 212.29,200.77 212.77,200.12 213.58,200.29 214.20,200.02 214.54,199.00 215.35,199.19 215.90,198.73 216.44,198.19 217.23,198.35 218.02,198.54 218.48,197.72 219.30,198.03 219.86,197.50 220.49,197.19 221.24,197.29 222.00,197.40 222.54,196.79 223.29,196.89 223.72,195.89 224.40,195.74 225.05,195.47 225.97,196.12 226.43,195.21 227.11,195.06 227.90,195.23 228.61,195.15 229.21,194.69 229.88,194.47 230.49,194.07 231.24,194.12 231.78,193.47 232.47,193.36 233.24,193.47 233.87,193.15 234.45,192.66 235.14,192.52 235.92,192.68 236.73,192.93 237.15,191.90 238.03,192.38 238.58,191.78 239.11,191.12 239.86,191.17 240.66,191.37 241.22,190.88 241.80,190.43 242.49,190.34 243.31,190.66 243.97,190.43 244.49,189.65 245.39,190.12 245.94,189.40 246.75,189.47 247.24,188.64 248.21,189.08 248.63,188.18 249.41,188.19 249.97,187.72 250.77,187.80 251.60,187.92 251.99,187.02 252.85,187.14 253.31,186.38 254.07,186.25 254.57,185.60 255.43,185.57 256.08,185.15 256.79,184.84 257.36,184.25 257.78,183.50 258.78,183.48 259.45,183.00 259.53,181.98 260.51,181.86 260.81,181.09 261.60,180.79 261.65,179.86 261.91,179.13 262.69,178.82 262.99,178.13 263.37,177.51 264.33,177.29 264.53,176.55 264.53,175.67 264.99,175.11 265.65,174.67 266.37,174.22 265.92,173.02 266.89,172.59 267.22,171.82 267.33,170.98 267.29,170.14 268.08,169.56 267.89,168.82 267.75,168.09Z"/><path d="M263.6,164.4L266.9,164.1L266.9,169.5L264,171Z"/></g>
<g fill="#ff6600"><path d="M43.82,224.95 44.52,224.87 45.24,224.91 45.96,224.95 46.59,224.50 47.27,224.36 47.97,224.30 48.72,224.48 49.34,223.99 50.10,224.21 50.78,224.04 51.41,223.60 52.14,223.71 52.82,223.53 53.51,223.38 54.27,223.61 54.85,222.93 55.53,222.76 56.33,223.19 56.95,222.73 57.62,222.47 58.32,222.42 59.01,222.30 59.78,222.54 60.37,221.93 61.06,221.80 61.80,221.89 62.48,221.73 63.23,221.85 63.90,221.63 64.51,221.17 65.18,220.93 65.96,221.19 66.67,221.15 67.21,220.37 68.00,220.69 68.70,220.63 69.35,220.34 69.97,219.90 70.75,220.14 71.42,219.95 72.02,219.44 72.77,219.59 73.39,219.16 74.05,218.89 74.78,218.94 75.46,218.79 76.16,218.69 76.88,218.72 77.59,218.70 78.30,218.65 78.98,218.52 79.67,218.38 80.32,218.09 80.93,217.60 81.59,217.36 82.35,217.55 83.02,217.35 83.73,217.30 84.32,216.73 85.01,216.67 85.81,217.07 86.45,216.70 87.15,216.63 87.74,216.04 88.47,216.14 89.23,216.40 89.87,216.07 90.62,216.21 91.18,215.47 91.90,215.54 92.63,215.69 93.26,215.29 94.00,215.45 94.66,215.15 95.27,214.69 95.95,214.57 96.76,215.17 97.34,214.38 98.03,214.34 98.73,214.36 99.46,214.58 100.17,214.61 100.81,214.21 101.49,214.16 102.22,214.32 102.86,213.82 103.55,213.83 104.26,213.96 104.96,213.92 105.60,213.35 106.30,213.35 106.99,213.32 107.74,213.76 108.42,213.68 109.14,213.88 109.82,213.65 110.48,213.15 111.21,213.55 111.92,213.70 112.58,213.09 113.25,212.74 113.98,213.02 114.67,212.88 115.37,212.74 116.06,212.57 116.76,212.58 117.53,213.20 118.16,212.40 118.92,212.85 119.58,212.42 120.28,212.34 121.04,212.85 121.69,212.30 122.37,212.13 123.09,212.31 123.81,212.47 124.49,212.25 125.22,212.50 125.88,212.00 126.58,212.05 127.30,212.17 127.97,211.86 128.69,212.04 129.37,211.74 130.03,211.36 130.73,211.28 131.49,211.85 132.18,211.75 132.90,211.88 133.57,211.57 134.26,211.39 134.91,210.92 135.68,211.53 136.30,210.74 137.03,210.98 137.70,210.63 138.42,210.80 139.11,210.66 139.82,210.71 140.55,210.93 141.23,210.69 141.90,210.32 142.66,210.79 143.35,210.68 144.06,210.70 144.66,209.82 145.43,210.35 146.16,210.56 146.78,209.83 147.47,209.70 148.25,210.26 148.89,209.72 149.59,209.69 150.34,210.05 150.98,209.52 151.66,209.25 152.36,209.19 153.07,209.25 153.82,209.54 154.47,209.12 155.22,209.47 155.82,208.63 156.54,208.75 157.29,209.07 157.97,208.84 158.67,208.78 159.43,209.17 160.03,208.37 160.71,208.18 161.39,207.93 162.14,208.33 162.81,208.03 163.53,208.13 164.16,207.53 164.85,207.44 165.60,207.76 166.35,208.08 166.98,207.48 167.77,208.06 168.41,207.60 169.08,207.32 169.83,207.63 170.44,206.94 171.20,207.25 171.93,207.42 172.57,206.99 173.23,206.66 173.89,206.32 174.66,206.74 175.30,206.23 176.02,206.33 176.74,206.42 177.49,206.76 178.14,206.37 178.81,206.11 179.56,206.38 180.17,205.69 180.87,205.68 181.61,205.90 182.29,205.67 182.93,205.21 183.65,205.32 184.41,205.67 185.01,204.94 185.78,205.35 186.37,204.54 187.20,205.43 187.85,205.04 188.49,204.56 189.28,205.18 189.95,204.88 190.53,203.99 191.25,204.10 191.98,204.27 192.75,204.72 193.31,203.70 193.99,203.50 194.72,203.70 195.38,203.32 196.12,203.62 196.83,203.67 197.51,203.48 198.16,203.06 198.84,202.84 199.64,203.60 200.28,203.12 200.98,203.07 201.67,202.98 202.40,203.12 203.12,203.27 203.80,203.10 204.48,202.91 205.12,202.40 205.79,202.12 206.48,201.95 207.27,202.71 207.86,201.75 208.62,202.22 209.36,202.51 209.98,201.78 210.68,201.77 211.38,201.72 212.15,202.21 212.81,201.84 213.52,201.92 214.11,200.97 214.90,201.64 215.55,201.25 216.24,201.11 216.98,201.48 217.66,201.31 218.38,201.42 219.05,201.15 219.76,201.26 220.40,200.66 221.11,200.72 221.83,200.90 222.49,200.46 223.15,200.03 223.90,200.44 224.64,200.67 225.34,200.59 225.94,199.69 226.68,199.89 227.36,199.63 228.08,199.66 228.87,200.24 229.50,199.56 230.18,199.34 230.88,199.19 231.61,199.27 232.35,199.41 232.99,198.94 233.66,198.65 234.36,198.58 235.07,198.50 235.88,199.07 236.44,198.15 237.24,198.66 237.81,197.84 238.63,198.45 239.22,197.76 240.01,198.19 240.63,197.69 241.25,197.18 241.94,197.08 242.76,197.72 243.40,197.31 244.07,197.13 244.73,196.87 245.48,197.11 246.13,196.77 246.74,196.20 247.53,196.66 248.17,196.23 248.96,196.69 249.59,196.25 250.33,196.37 250.89,195.55 251.69,196.06 252.36,195.84 253.10,195.98 253.79,195.90 254.42,195.42 255.12,195.35 255.84,195.42 256.44,194.75 257.18,194.94 257.91,195.09 258.56,194.76 259.24,194.59 259.99,194.81 260.70,194.83 261.26,193.93 261.91,193.62 262.69,194.10 263.29,193.48 264.09,194.28 264.66,193.65 265.28,193.65 265.97,193.91 266.27,193.94 265.81,189.29 265.60,188.88 264.84,188.67 264.13,189.36 263.29,188.66 262.63,189.21 261.89,189.12 261.17,189.10 260.61,190.02 259.89,190.00 259.13,189.68 258.42,189.72 257.75,189.97 257.01,189.76 256.37,190.20 255.65,190.13 255.01,190.56 254.26,190.32 253.59,190.58 252.90,190.70 252.33,191.49 251.59,191.32 250.91,191.53 250.19,191.47 249.45,191.29 248.74,191.32 248.09,191.67 247.42,191.91 246.65,191.55 245.98,191.79 245.37,192.34 244.59,191.94 244.04,192.92 243.32,192.86 242.61,192.91 241.87,192.75 241.09,192.36 240.51,193.10 239.72,192.69 239.16,193.55 238.42,193.34 237.64,193.00 237.11,194.00 236.41,194.00 235.68,193.90 234.90,193.47 234.30,194.05 233.70,194.69 233.00,194.69 232.33,194.92 231.63,194.88 230.86,194.42 230.16,194.43 229.60,195.32 228.80,194.62 228.13,194.82 227.47,195.05 226.80,195.30 226.09,195.13 225.44,195.54 224.76,195.73 224.04,195.51 223.41,196.13 222.73,196.30 221.95,195.62 221.29,196.03 220.55,195.75 219.83,195.57 219.20,196.29 218.44,195.76 217.81,196.51 217.05,196.02 216.45,196.93 215.68,196.48 215.00,196.70 214.34,197.03 213.59,196.73 212.87,196.54 212.20,196.83 211.51,196.96 210.83,197.21 210.07,196.74 209.47,197.58 208.70,197.11 208.07,197.66 207.32,197.31 206.67,197.81 205.98,197.96 205.32,198.33 204.52,197.51 203.84,197.76 203.17,198.02 202.44,197.83 201.73,197.83 201.05,198.02 200.44,198.82 199.73,198.79 198.97,198.39 198.33,198.90 197.62,198.87 196.89,198.74 196.28,199.41 195.55,199.26 194.87,199.47 194.10,199.01 193.38,198.94 192.77,199.66 192.06,199.64 191.32,199.43 190.60,199.30 190.03,200.33 189.21,199.45 188.62,200.34 187.86,200.00 187.21,200.34 186.54,200.61 185.76,200.11 185.10,200.47 184.45,200.84 183.67,200.32 182.96,200.31 182.35,201.01 181.70,201.44 180.96,201.17 180.27,201.30 179.57,201.35 178.84,201.22 178.14,201.26 177.43,201.21 176.80,201.79 176.12,201.99 175.46,202.27 174.69,201.82 174.02,202.12 173.29,201.89 172.57,201.79 171.91,202.18 171.22,202.31 170.48,202.03 169.92,203.06 169.20,202.97 168.50,203.04 167.76,202.74 167.01,202.41 166.34,202.69 165.67,202.92 164.96,202.88 164.26,202.97 163.61,203.39 162.96,203.80 162.20,203.39 161.54,203.72 160.88,204.08 160.09,203.45 159.45,203.92 158.69,203.53 158.08,204.23 157.43,204.62 156.75,204.84 155.93,203.92 155.26,204.21 154.58,204.36 153.97,205.14 153.26,205.06 152.50,204.58 151.86,205.15 151.20,205.50 150.52,205.66 149.82,205.73 149.07,205.33 148.43,205.88 147.74,205.93 146.99,205.60 146.36,206.22 145.57,205.46 144.94,206.05 144.20,205.76 143.51,205.90 142.87,206.45 142.16,206.35 141.48,206.57 140.76,206.47 140.05,206.37 139.42,207.06 138.71,206.96 138.03,207.18 137.25,206.50 136.61,207.09 135.89,206.94 135.16,206.69 134.53,207.37 133.86,207.62 133.08,206.96 132.40,207.20 131.72,207.38 131.05,207.66 130.30,207.28 129.66,207.85 128.95,207.82 128.27,207.99 127.58,208.14 126.83,207.75 126.22,208.58 125.47,208.17 124.77,208.19 124.05,208.05 123.44,208.97 122.72,208.83 121.99,208.61 121.29,208.64 120.65,209.21 119.88,208.54 119.22,208.87 118.55,209.21 117.84,209.10 117.19,209.58 116.48,209.38 115.79,209.61 115.05,209.06 114.41,209.74 113.66,209.22 112.97,209.26 112.29,209.58 111.63,210.04 110.95,210.29 110.19,209.71 109.51,209.97 108.82,210.11 108.09,209.91 107.40,210.07 106.71,210.22 106.00,210.29 105.34,210.80 104.61,210.55 103.87,210.23 103.17,210.44 102.51,210.92 101.80,210.91 101.15,211.35 100.34,210.67 99.68,211.12 99.01,211.34 98.32,211.49 97.57,211.33 96.90,211.65 96.15,211.37 95.46,211.50 94.79,211.86 94.09,212.01 93.46,212.47 92.75,212.50 92.05,212.55 91.40,212.93 90.68,212.94 89.97,212.97 89.26,212.98 88.53,212.94 87.97,213.70 87.19,213.44 86.50,213.57 85.90,214.13 85.15,213.97 84.41,213.86 83.78,214.29 83.19,214.85 82.46,214.82 81.80,215.05 81.00,214.69 80.34,214.97 79.71,215.35 79.03,215.55 78.26,215.31 77.63,215.70 76.91,215.68 76.32,216.28 75.63,216.39 74.86,216.15 74.21,216.45 73.50,216.51 72.81,216.60 72.26,217.33 71.59,217.54 70.91,217.73 70.21,217.81 69.48,217.74 68.81,217.98 68.19,218.37 67.39,218.03 66.79,218.54 66.15,218.86 65.43,218.86 64.73,218.95 64.10,219.33 63.40,219.42 62.70,219.48 61.95,219.31 61.28,219.49 60.69,220.10 60.00,220.21 59.31,220.29 58.58,220.22 57.86,220.21 57.29,220.88 56.51,220.58 55.82,220.69 55.20,221.15 54.49,221.14 53.79,221.20 53.11,221.36 52.49,221.84 51.72,221.56 51.12,222.13 50.43,222.24 49.69,222.10 49.03,222.33 48.36,222.56 47.62,222.40 46.92,222.48 46.29,222.91 45.60,223.06 44.86,222.88 44.25,223.45 43.52,223.39Z"/><path d="M264.73,193.00 264.09,193.39 263.54,193.79 262.70,193.64 262.55,194.31 261.97,194.39 261.80,195.27 261.06,195.13 260.33,195.05 259.86,195.64 259.07,195.46 258.47,195.78 258.04,196.55 257.54,197.17 256.60,196.64 256.19,197.53 255.59,197.89 254.66,197.38 253.97,197.50 253.32,197.74 252.62,197.86 252.24,198.87 251.63,199.23 250.96,199.42 249.98,198.76 249.64,199.89 248.96,200.07 248.35,200.44 247.69,200.64 247.03,200.88 246.26,200.78 245.67,201.20 244.97,201.27 244.10,200.83 243.71,201.84 242.84,201.37 242.21,201.65 241.62,202.02 240.96,202.21 240.25,202.19 239.65,202.56 239.10,203.11 238.42,203.17 237.80,203.41 237.10,203.38 236.31,202.88 235.76,203.62 235.15,204.13 234.38,203.82 233.62,203.59 233.00,204.12 232.24,203.98 231.68,204.78 230.98,204.96 230.14,204.48 229.59,205.29 228.82,205.20 228.10,205.28 227.46,205.67 226.82,206.02 226.14,206.25 225.18,205.44 224.58,205.91 223.83,205.82 223.30,206.49 222.50,206.19 221.86,206.47 221.26,206.91 220.63,207.19 219.97,207.38 219.38,207.85 218.68,207.85 217.93,207.64 217.40,208.35 216.58,207.80 216.00,208.30 215.31,208.33 214.60,208.22 213.98,208.53 213.39,209.19 212.70,209.19 212.06,209.56 211.37,209.63 210.54,208.73 209.91,209.21 209.17,208.90 208.52,209.19 207.90,209.79 207.12,209.17 206.44,209.30 205.81,209.89 205.17,210.38 204.45,210.20 203.77,210.45 203.06,210.31 202.40,210.70 201.63,210.08 200.91,209.87 200.30,210.78 199.54,210.24 198.87,210.53 198.18,210.71 197.44,210.32 196.80,210.98 196.05,210.57 195.45,211.50 194.65,210.56 194.04,211.49 193.37,211.76 192.58,210.87 191.90,211.12 191.21,211.24 190.51,211.21 189.86,211.71 189.19,212.07 188.48,211.91 187.72,211.28 187.02,211.32 186.40,212.21 185.69,212.04 184.99,212.10 184.25,211.67 183.64,212.71 182.86,211.88 182.23,212.57 181.50,212.31 180.85,212.83 180.15,212.94 179.38,212.13 178.72,212.61 177.98,212.16 177.29,212.34 176.61,212.52 175.97,213.32 175.23,212.82 174.50,212.44 173.85,213.03 173.20,213.57 172.50,213.49 171.75,212.66 171.06,212.72 170.42,213.57 169.72,213.54 169.00,213.14 168.31,213.42 167.64,213.81 166.88,212.98 166.20,213.43 165.51,213.76 164.83,214.19 164.08,213.70 163.35,213.50 162.69,214.19 161.99,214.36 161.20,213.74 160.45,213.61 159.81,214.29 159.07,214.30 158.32,214.23 157.62,214.49 156.99,215.04 156.25,215.03 155.56,215.25 154.87,215.41 154.20,215.68 153.45,215.51 152.80,215.85 151.99,215.34 151.43,216.04 150.62,215.52 149.99,215.82 149.43,216.52 148.77,216.77 148.03,216.46 147.37,216.68 146.70,216.73 146.09,217.25 145.34,216.93 144.64,216.80 144.01,217.21 143.33,217.49 142.58,216.90 141.96,217.61 141.19,216.99 140.53,217.38 139.91,218.15 139.18,217.78 138.51,218.15 137.76,217.59 137.10,218.02 136.44,218.43 135.67,217.64 134.99,217.86 134.31,218.12 133.62,218.23 132.96,218.78 132.20,217.96 131.56,218.69 130.84,218.54 130.15,218.64 129.45,218.72 128.79,219.22 128.03,218.45 127.36,218.90 126.68,219.05 125.95,218.68 125.25,218.74 124.56,218.94 123.85,218.82 123.20,219.41 122.52,219.70 121.80,219.53 121.09,219.36 120.38,219.25 119.68,219.36 119.00,219.52 118.30,219.61 117.60,219.61 116.91,219.75 116.25,220.31 115.53,219.89 114.85,220.19 114.16,220.42 113.44,220.00 112.73,219.85 112.06,220.39 111.35,220.10 110.65,220.19 109.96,220.19 109.25,220.08 108.56,220.28 107.89,220.86 107.17,220.44 106.48,220.72 105.78,220.70 105.07,220.53 104.40,221.00 103.68,220.66 102.96,220.45 102.30,221.22 101.57,220.62 100.88,220.79 100.19,221.09 99.48,220.83 98.81,221.45 98.11,221.42 97.38,220.79 96.69,221.14 96.01,221.55 95.32,221.63 94.61,221.42 93.90,221.38 93.19,221.08 92.52,221.76 91.81,221.45 91.12,221.65 90.41,221.60 89.70,221.34 89.03,222.03 88.31,221.52 87.61,221.64 86.93,222.04 86.24,222.19 85.52,221.76 84.82,221.72 84.14,222.15 83.45,222.34 82.73,222.07 82.03,222.02 81.35,222.30 80.64,222.30 79.96,222.56 79.26,222.57 78.56,222.55 77.84,222.19 77.16,222.69 76.46,222.67 75.76,222.51 75.07,222.73 74.37,222.74 73.66,222.42 72.97,222.80 72.27,222.60 71.58,222.97 70.87,222.70 70.17,222.60 69.48,222.80 68.78,223.01 68.09,223.14 67.38,223.00 66.68,222.93 65.99,223.17 65.28,222.97 64.58,222.94 63.89,223.26 63.18,222.89 62.48,222.72 61.79,222.91 61.09,223.10 60.39,222.87 59.69,222.82 58.99,222.84 58.29,222.86 57.59,223.00 56.89,222.90 56.20,223.04 55.50,223.33 54.80,223.46 54.10,223.26 53.40,223.14 52.70,223.43 52.00,223.39 51.30,223.57 50.60,223.61 49.99,223.49 50.01,224.98 50.62,225.01 51.32,225.21 52.02,225.36 52.72,225.11 53.42,225.02 54.12,225.43 54.82,225.32 55.52,224.99 56.23,225.54 56.92,225.05 57.63,225.53 58.33,225.47 59.03,225.42 59.73,225.38 60.43,225.14 61.13,225.32 61.83,225.19 62.53,224.95 63.23,224.96 63.94,225.48 64.64,225.42 65.34,225.21 66.03,224.92 66.73,225.02 67.44,225.30 68.14,225.42 68.85,225.44 69.55,225.38 70.24,225.05 70.95,225.29 71.64,224.87 72.34,224.89 73.04,224.80 73.75,225.16 74.45,225.29 75.15,225.15 75.86,225.28 76.55,224.94 77.25,225.01 77.95,224.85 78.65,224.87 79.35,224.70 80.06,224.93 80.77,225.22 81.46,224.94 82.17,225.07 82.87,224.96 83.55,224.59 84.28,225.16 84.96,224.77 85.65,224.60 86.38,225.02 87.07,224.90 87.75,224.46 88.47,224.83 89.18,224.90 89.87,224.81 90.55,224.25 91.25,224.32 91.96,224.44 92.68,224.75 93.37,224.56 94.08,224.77 94.75,224.19 95.45,224.10 96.16,224.22 96.85,224.00 97.57,224.46 98.27,224.35 98.96,224.27 99.66,224.15 100.37,224.30 101.06,224.21 101.74,223.82 102.45,223.85 103.17,224.32 103.86,224.13 104.54,223.76 105.27,224.23 105.98,224.33 106.65,223.81 107.36,223.90 108.05,223.68 108.76,223.91 109.47,224.08 110.16,223.79 110.84,223.36 111.56,223.65 112.29,224.08 112.94,223.23 113.65,223.36 114.38,223.76 115.09,223.78 115.75,223.26 116.45,223.08 117.18,223.50 117.84,222.94 118.57,223.25 119.24,222.84 119.98,223.26 120.67,223.03 121.39,223.26 122.09,223.31 122.79,223.23 123.46,222.89 124.17,223.00 124.89,223.20 125.55,222.60 126.28,222.95 126.96,222.69 127.67,222.78 128.40,223.15 129.08,222.82 129.79,222.85 130.49,222.79 131.21,222.99 131.89,222.72 132.59,222.72 133.31,222.84 133.99,222.57 134.70,222.68 135.38,222.30 136.07,222.10 136.78,222.22 137.45,221.83 138.17,221.97 138.92,222.38 139.61,222.31 140.28,221.94 140.97,221.70 141.67,221.62 142.33,221.16 143.05,221.20 143.77,221.29 144.45,221.10 145.17,221.06 145.91,221.17 146.58,220.87 147.28,220.68 148.11,221.34 148.80,221.07 149.47,220.68 150.15,220.46 150.92,220.66 151.65,220.63 152.27,220.11 152.90,219.69 153.65,219.80 154.42,220.06 154.99,219.42 155.74,219.62 156.39,219.38 157.00,218.94 157.77,219.36 158.48,219.53 159.11,219.29 159.75,219.04 160.44,219.11 161.06,218.69 161.80,219.16 162.46,218.96 163.06,218.14 163.78,218.48 164.49,218.74 165.18,218.79 165.86,218.68 166.56,218.77 167.20,217.88 167.93,218.53 168.61,218.08 169.34,218.52 170.00,217.87 170.72,218.14 171.40,217.66 172.09,217.40 172.81,217.65 173.50,217.33 174.23,217.53 174.94,217.59 175.68,217.96 176.35,217.60 177.04,217.48 177.76,217.58 178.48,217.79 179.09,216.76 179.86,217.49 180.53,217.18 181.21,216.87 181.91,216.80 182.64,217.09 183.32,216.90 184.01,216.72 184.70,216.57 185.42,216.74 186.17,217.15 186.86,217.02 187.54,216.75 188.26,216.89 188.87,215.88 189.64,216.53 190.30,216.15 190.98,215.85 191.72,216.17 192.43,216.25 193.15,216.31 193.77,215.53 194.48,215.54 195.16,215.35 195.95,216.12 196.64,216.01 197.34,215.93 198.01,215.66 198.66,215.13 199.41,215.55 200.12,215.65 200.79,215.30 201.50,215.32 202.14,214.68 202.83,214.56 203.57,214.84 204.30,215.05 204.93,214.43 205.63,214.31 206.38,214.63 207.02,214.07 207.75,214.21 208.51,214.58 209.18,214.22 209.91,214.33 210.64,214.41 211.29,213.94 211.91,213.30 212.69,213.69 213.37,213.43 214.09,213.39 214.76,213.09 215.44,212.77 216.22,213.01 216.91,212.81 217.60,212.56 218.28,212.31 219.03,212.37 219.69,212.01 220.52,212.42 221.01,211.43 221.91,212.07 222.60,211.86 223.23,211.45 223.91,211.25 224.57,210.99 225.27,210.91 225.95,210.73 226.57,210.36 227.27,210.29 227.96,210.19 228.45,209.36 229.22,209.60 229.98,209.84 230.63,209.70 231.21,209.20 231.77,208.56 232.59,209.18 233.24,208.95 233.80,208.24 234.48,208.09 235.32,208.79 235.95,208.39 236.55,207.71 237.43,208.46 237.93,207.35 238.82,208.01 239.38,207.18 240.11,207.07 240.97,207.50 241.73,207.49 242.32,206.91 242.98,206.62 243.55,206.03 244.20,205.70 245.06,206.09 245.76,205.92 246.46,205.77 247.13,205.51 247.62,204.76 248.55,205.30 249.03,204.53 249.71,204.32 250.28,203.84 250.99,203.74 251.69,203.62 252.45,203.67 253.20,203.69 253.83,203.36 254.50,203.13 254.85,202.01 255.58,201.98 256.31,201.90 257.07,201.94 257.58,201.28 258.23,200.99 258.88,200.71 259.52,200.38 260.25,200.30 260.84,199.84 261.56,199.68 262.17,199.27 263.15,199.56 263.54,198.55 264.42,198.48 264.95,197.76 265.61,197.26 266.36,196.86 267.44,196.96 267.51,196.06Z"/><path d="M263.5,189.0H267.2V196.6H263.5Z"/></g>
<path d="M72,223.4L92,222.8" stroke="#3a2a40" stroke-width="0.7" stroke-opacity="0.55" fill="none"/>
<g font-size="10">
<text x="270" y="33.3" fill="#ff0000" stroke="#ff0000" stroke-width="0.08">T = 5°C</text>
<text x="270.4" y="140.6" fill="#111" stroke="#111" stroke-width="0.1">T = 19°C</text>
<text x="271" y="166.7" fill="#0000ff" stroke="#0000ff" stroke-width="0.22">T = 25°C</text>
<text x="271.8" y="199.8" fill="#ff6600" stroke="#ff6600" stroke-width="0.1">T = 45°C</text>
</g>
</svg>
</body></html>
